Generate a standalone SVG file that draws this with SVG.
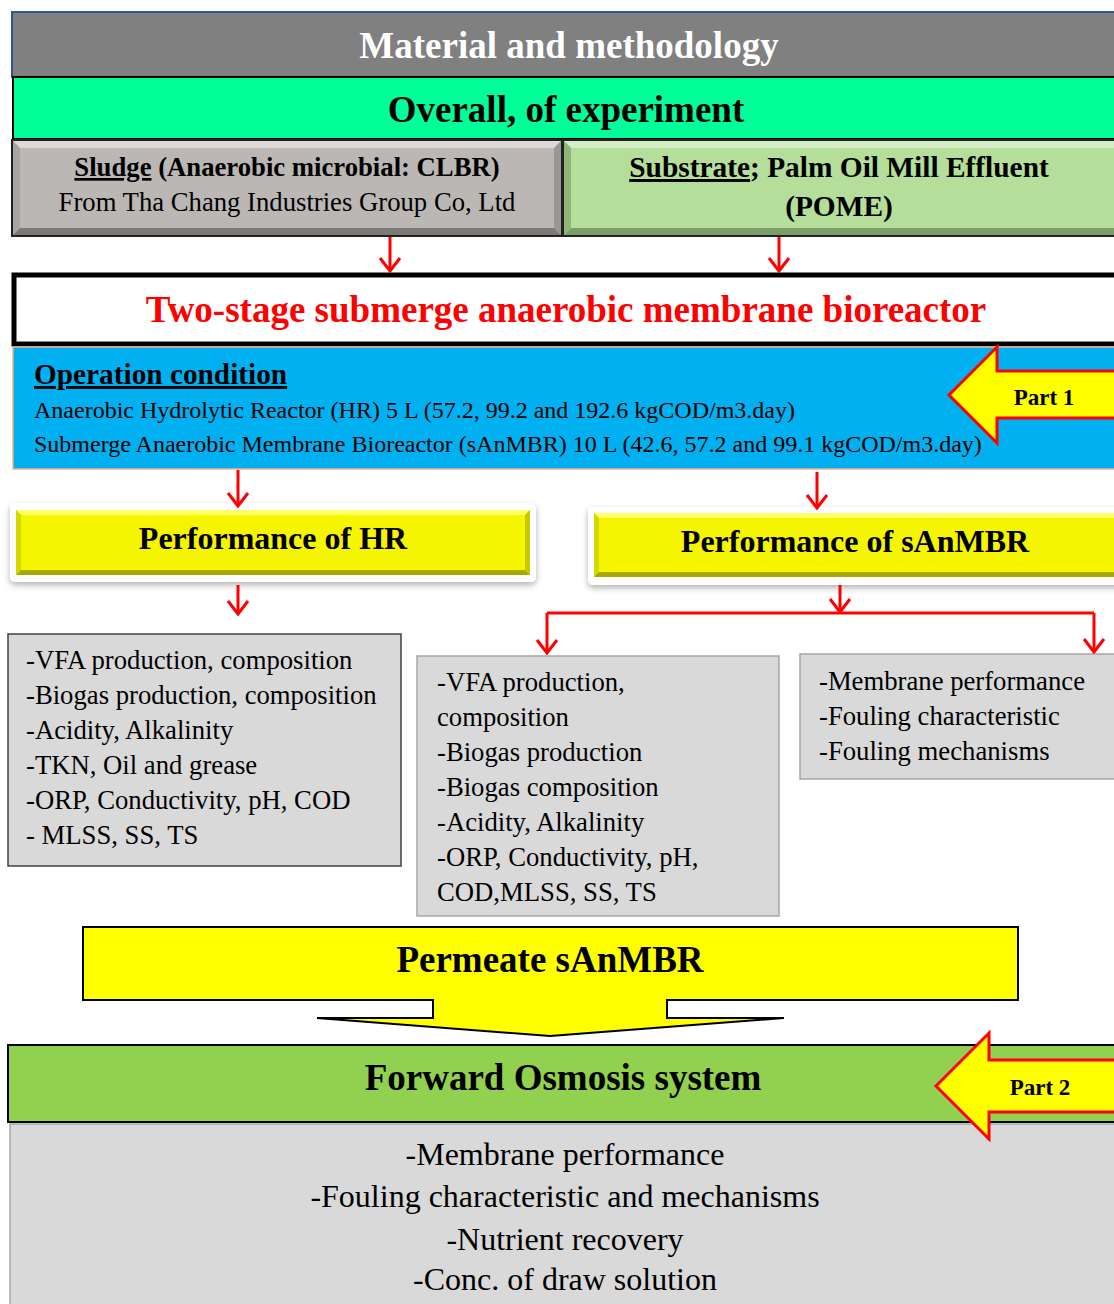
<svg xmlns="http://www.w3.org/2000/svg" width="1114" height="1304" viewBox="0 0 1114 1304">
<style>
text{font-family:"Liberation Serif","Times New Roman",serif;}
.b{font-weight:bold;}
.c{text-anchor:middle;}
.gt{font-size:26.7px;fill:#000;}
.conn{stroke:#ff0000;stroke-width:3;fill:none;marker-end:url(#ah);}
.gray{fill:#d9d9d9;}
.part{fill:#ffff00;stroke:#ff0000;stroke-width:3;}
</style>
<defs>
<marker id="ah" markerUnits="userSpaceOnUse" viewBox="-15 -12 17 24" refX="0" refY="0" markerWidth="17" markerHeight="24" orient="auto">
<path d="M-13,-10 L0,0 L-13,10" fill="none" stroke="#ff0000" stroke-width="3"/>
</marker>
<filter id="sh" x="-5%" y="-20%" width="110%" height="150%">
<feDropShadow dx="0" dy="3" stdDeviation="3" flood-color="#000" flood-opacity="0.3"/>
</filter>
</defs>
<rect width="1114" height="1304" fill="#ffffff"/>

<g id="header">
<rect x="12" y="12" width="1110" height="65" fill="#808080" stroke="#2f5597" stroke-width="2"/>
<text x="569" y="58" class="b c" font-size="37" fill="#ffffff">Material and methodology</text>
</g>

<g id="overall">
<rect x="13" y="77" width="1110" height="62" fill="#00ff99" stroke="#000" stroke-width="2"/>
<text x="566" y="122" class="b c" font-size="37">Overall, of experiment</text>
</g>

<g id="sludge">
<rect x="12" y="140" width="550" height="96" fill="#bbb7b5" stroke="#222" stroke-width="2"/>
<polygon points="13,141 561,141 554,148 20,148" fill="#dcd9d7"/>
<polygon points="13,141 20,148 20,228 13,235" fill="#a8a4a2"/>
<polygon points="561,141 561,235 554,228 554,148" fill="#9a9694"/>
<polygon points="13,235 20,228 554,228 561,235" fill="#7d7977"/>
<text x="287" y="176" class="b c" font-size="26.7"><tspan text-decoration="underline">Sludge</tspan> (Anaerobic microbial: CLBR)</text>
<text x="287" y="211" class="c" font-size="26.7">From Tha Chang Industries Group Co, Ltd</text>
</g>

<g id="substrate">
<rect x="563" y="140" width="560" height="96" fill="#b4de9a" stroke="#222" stroke-width="2"/>
<polygon points="564,141 1122,141 1115,148 571,148" fill="#d4edc4"/>
<polygon points="564,141 571,148 571,228 564,235" fill="#8fb57a"/>
<polygon points="564,235 571,228 1115,228 1122,235" fill="#7a9e66"/>
<text x="839" y="177" class="b c" font-size="29.4"><tspan text-decoration="underline">Substrate</tspan>; Palm Oil Mill Effluent</text>
<text x="839" y="216" class="b c" font-size="29.4">(POME)</text>
</g>

<g id="twostage">
<rect x="14" y="275" width="1110" height="69" fill="#ffffff" stroke="#000" stroke-width="5"/>
<text x="566" y="322" class="b c" font-size="37" fill="#ff0000">Two-stage submerge anaerobic membrane bioreactor</text>
</g>

<g id="operation">
<rect x="13" y="347" width="1110" height="122" fill="#00b0f0" stroke="#f4b183" stroke-width="1.5"/>
<text x="34" y="384" class="b" font-size="29.3" text-decoration="underline">Operation condition</text>
<text x="34" y="418" font-size="24">Anaerobic Hydrolytic Reactor (HR) 5 L (57.2, 99.2 and 192.6 kgCOD/m3.day)</text>
<text x="34" y="452" font-size="24">Submerge Anaerobic Membrane Bioreactor (sAnMBR) 10 L (42.6, 57.2 and 99.1 kgCOD/m3.day)</text>
</g>

<g id="part1">
<polygon class="part" points="949,395 997,347 997,371 1120,371 1120,418 997,418 997,443"/>
<text x="1044" y="405" class="b c" font-size="23">Part 1</text>
</g>

<g id="perfHR">
<rect x="10" y="503" width="526" height="79" rx="5" fill="#ffffff" filter="url(#sh)"/>
<rect x="16" y="510" width="514" height="65" fill="#f5f500"/>
<polygon points="16,510 530,510 525,515 21,515" fill="#ffff66"/>
<polygon points="16,510 21,515 21,570 16,575" fill="#d6d600"/>
<polygon points="530,510 530,575 525,570 525,515" fill="#c8c800"/>
<polygon points="16,575 21,570 525,570 530,575" fill="#a8a800"/>
<text x="273" y="549" class="b c" font-size="32">Performance of HR</text>
</g>

<g id="perfSAnMBR">
<rect x="588" y="507" width="540" height="78" rx="5" fill="#ffffff" filter="url(#sh)"/>
<rect x="594" y="513" width="530" height="64" fill="#f5f500"/>
<polygon points="594,513 1124,513 1119,518 599,518" fill="#ffff66"/>
<polygon points="594,513 599,518 599,572 594,577" fill="#d6d600"/>
<polygon points="594,577 599,572 1119,572 1124,577" fill="#a8a800"/>
<text x="855" y="552" class="b c" font-size="32">Performance of sAnMBR</text>
</g>

<g id="hrList">
<rect x="8" y="634" width="393" height="232" class="gray" stroke="#404040" stroke-width="1.5"/>
<text x="26" y="669" class="gt">-VFA production, composition</text>
<text x="26" y="704" class="gt">-Biogas production, composition</text>
<text x="26" y="739" class="gt">-Acidity, Alkalinity</text>
<text x="26" y="774" class="gt">-TKN, Oil and grease</text>
<text x="26" y="809" class="gt">-ORP, Conductivity, pH, COD</text>
<text x="26" y="844" class="gt">- MLSS, SS, TS</text>
</g>

<g id="sanmbrList">
<rect x="417" y="656" width="362" height="260" class="gray" stroke="#a6a6a6" stroke-width="1.5"/>
<text x="437" y="691" class="gt">-VFA production,</text>
<text x="437" y="726" class="gt">composition</text>
<text x="437" y="761" class="gt">-Biogas production</text>
<text x="437" y="796" class="gt">-Biogas composition</text>
<text x="437" y="831" class="gt">-Acidity, Alkalinity</text>
<text x="437" y="866" class="gt">-ORP, Conductivity, pH,</text>
<text x="437" y="901" class="gt">COD,MLSS, SS, TS</text>
</g>

<g id="membraneList">
<rect x="800" y="654" width="320" height="125" class="gray" stroke="#a6a6a6" stroke-width="1.5"/>
<text x="819" y="690" class="gt">-Membrane performance</text>
<text x="819" y="725" class="gt">-Fouling characteristic</text>
<text x="819" y="760" class="gt">-Fouling mechanisms</text>
</g>

<g id="permeate">
<polygon points="83,927 1018,927 1018,1000 667,1000 667,1018 784,1018 550,1036 317,1018 433,1018 433,1000 83,1000" fill="#ffff00" stroke="#000" stroke-width="2"/>
<text x="550" y="972" class="b c" font-size="37">Permeate sAnMBR</text>
</g>

<g id="fo">
<rect x="8" y="1045" width="1115" height="77" fill="#92d050" stroke="#000" stroke-width="2"/>
<text x="563" y="1090" class="b c" font-size="37">Forward Osmosis system</text>
</g>

<g id="foList">
<rect x="10" y="1124" width="1115" height="190" class="gray" stroke="#a6a6a6" stroke-width="1.5"/>
<text x="565" y="1165" class="c" font-size="32">-Membrane performance</text>
<text x="565" y="1207" class="c" font-size="32">-Fouling characteristic and mechanisms</text>
<text x="565" y="1250" class="c" font-size="32">-Nutrient recovery</text>
<text x="565" y="1290" class="c" font-size="32">-Conc. of draw solution</text>
</g>

<g id="part2">
<polygon class="part" points="936,1086 989,1033 989,1060 1120,1060 1120,1112 989,1112 989,1139"/>
<text x="1040" y="1095" class="b c" font-size="23">Part 2</text>
</g>

<g id="connectors">
<path class="conn" d="M390,237 V271"/>
<path class="conn" d="M779,237 V271"/>
<path class="conn" d="M238,470 V506"/>
<path class="conn" d="M817,472 V508"/>
<path class="conn" d="M238,585 V614"/>
<path class="conn" d="M840,585 V612"/>
<path d="M547,613 H1094" stroke="#ff0000" stroke-width="3" fill="none"/>
<path class="conn" d="M547,613 V653"/>
<path class="conn" d="M1094,613 V652"/>
</g>
</svg>
